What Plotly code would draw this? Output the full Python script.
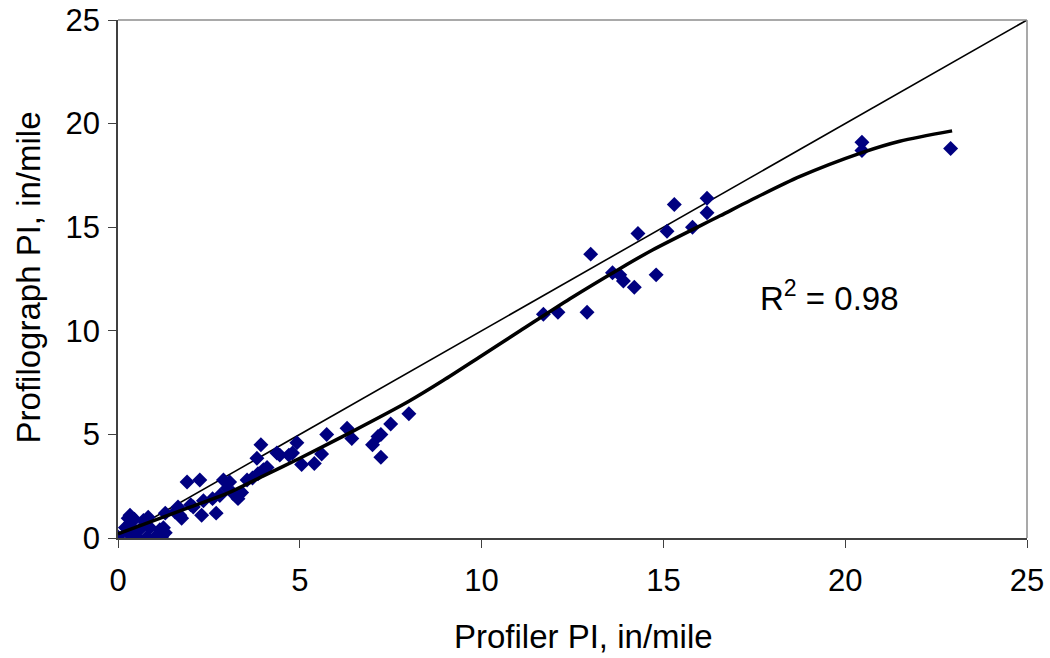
import plotly.graph_objects as go

# Measured points (Profiler PI, Profilograph PI), in/mile
profiler_pi = [
    0.0, 0.2, 0.28, 0.35, 0.4, 0.5, 0.55, 0.7, 0.8, 0.88, 0.65, 1.0, 1.15, 1.2, 1.25,
    0.3, 0.45, 1.1, 0.33, 0.83, 1.3,
    1.57, 1.7, 1.65, 1.9, 2.25, 1.75, 2.07, 2.3, 2.35, 2.7, 2.6, 2.9, 3.07, 3.17, 3.3,
    2.8, 3.7, 3.0, 3.55, 4.0, 3.4, 3.93, 3.82, 4.45, 4.8, 4.92, 5.05, 5.4, 5.6, 5.74,
    6.3, 6.43, 7.0, 7.15, 7.23, 7.23, 7.5, 8.0, 3.85, 4.1, 1.3, 2.0, 4.37, 4.7,
    11.7, 12.1, 12.9, 13.0, 13.6, 13.8, 13.9, 14.2, 14.8, 14.3, 15.1, 15.8, 15.3,
    16.2, 16.2, 20.46, 20.46, 22.9,
]
profilograph_pi = [
    0.05, 0.5, 0.95, 0.75, 0.0, 0.3, 0.0, 0.85, 0.05, 0.5, 0.5, 0.0, 0.4, 0.05, 0.5,
    0.2, 0.9, 0.0, 1.1, 1.0, 0.25,
    1.25, 1.1, 1.5, 2.7, 2.8, 0.95, 1.5, 1.1, 1.8, 1.2, 1.9, 2.8, 2.7, 2.15, 1.9,
    2.05, 2.9, 2.4, 2.8, 3.3, 2.2, 4.5, 3.85, 4.0, 4.1, 4.6, 3.55, 3.6, 4.05, 5.0,
    5.3, 4.8, 4.5, 4.9, 5.0, 3.9, 5.5, 6.0, 3.1, 3.4, 1.2, 1.6, 4.1, 4.0,
    10.8, 10.9, 10.9, 13.7, 12.8, 12.7, 12.4, 12.1, 12.7, 14.7, 14.8, 15.0, 16.1,
    16.4, 15.7, 19.1, 18.7, 18.8,
]

# Trend curve
trend_x = [0, 1, 2, 3, 4, 5, 6.4, 8, 8.94, 10, 11.06, 12.43, 13.8, 14.7, 16.56,
           17.4, 18.76, 20.46, 21.5, 22.94]
trend_y = [0.2, 0.85, 1.5, 2.15, 3.0, 3.85, 5.1, 6.6, 7.6, 8.8, 10.0, 11.55, 13.0,
           13.9, 15.55, 16.3, 17.45, 18.6, 19.15, 19.65]

# 1:1 line
equality_x = [0, 25]
equality_y = [0, 25]

r2_text = "R<sup>2</sup> = 0.98"
x_title = "Profiler PI, in/mile"
y_title = "Profilograph PI, in/mile"

font_family = "Liberation Sans, Arial, sans-serif"
FS = 31
FT = 33

fig = go.Figure()
fig.add_trace(go.Scatter(
    x=equality_x, y=equality_y, mode="lines",
    line=dict(color="black", width=1.6), showlegend=False, hoverinfo="skip"))
fig.add_trace(go.Scatter(
    x=profiler_pi, y=profilograph_pi, mode="markers",
    marker=dict(symbol="diamond", size=11.5, color="#000080", line=dict(width=0)),
    showlegend=False))
fig.add_trace(go.Scatter(
    x=trend_x, y=trend_y, mode="lines",
    line=dict(color="black", width=3.5, shape="spline", smoothing=0.8),
    showlegend=False, hoverinfo="skip"))

fig.add_annotation(x=17.6, y=11.7, xref="x", yref="y", text=r2_text,
                   showarrow=False, xanchor="left", yanchor="middle",
                   font=dict(size=FT, color="black", family=font_family))

# axis titles as annotations for exact placement
fig.add_annotation(x=0.5116, y=-0.191, xref="paper", yref="paper", text=x_title,
                   showarrow=False, xanchor="center", yanchor="middle",
                   font=dict(size=FT, color="black", family=font_family))
fig.add_annotation(x=-0.0990, y=0.503, xref="paper", yref="paper", text=y_title,
                   showarrow=False, xanchor="center", yanchor="middle", textangle=-90,
                   font=dict(size=FT, color="black", family=font_family))

# top and right frame lines (light gray)
fig.add_shape(type="line", xref="x domain", yref="y domain", x0=0, x1=1, y0=1, y1=1,
              line=dict(color="#8c8c8c", width=1.5))
fig.add_shape(type="line", xref="x domain", yref="y domain", x0=1, x1=1, y0=0, y1=1,
              line=dict(color="#8c8c8c", width=1.5))

axis_common = dict(
    range=[0, 25], dtick=5, tick0=0, showgrid=False, zeroline=False,
    showline=True, linecolor="#404040", linewidth=1.5,
    ticks="outside", ticklen=8, tickwidth=1.2, tickcolor="#404040",
    tickfont=dict(size=FS, color="black", family=font_family),
    automargin=False, ticklabeloverflow="allow",
)

fig.update_layout(
    width=1050, height=658,
    margin=dict(l=118, r=23, t=20, b=120),
    paper_bgcolor="white", plot_bgcolor="white",
    font=dict(family=font_family, color="black", size=FS),
    xaxis=dict(**axis_common, ticklabelstandoff=6),
    yaxis=dict(**axis_common, ticklabelstandoff=2),
)

fig.write_html("out.html", config={"displayModeBar": False},
               post_script="document.body.style.margin='0';")
